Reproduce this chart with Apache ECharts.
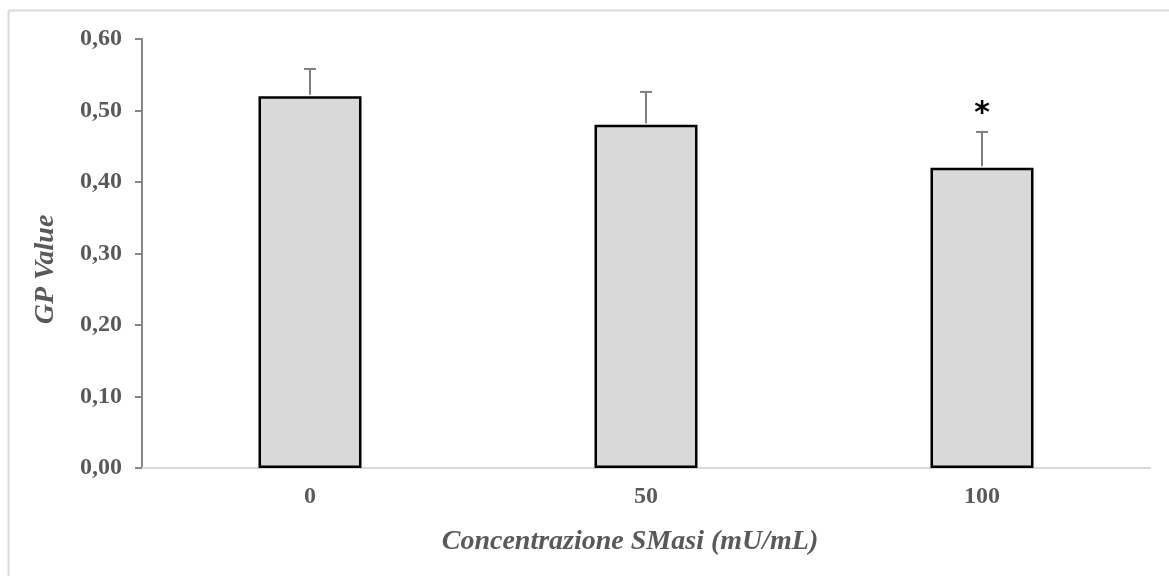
<!DOCTYPE html>
<html>
<head>
<meta charset="utf-8">
<script src="https://cdn.jsdelivr.net/npm/echarts@6/dist/echarts.min.js"></script>
<style>
html,body{margin:0;padding:0;background:#fff;}
#chart{width:1169px;height:576px;}
</style>
</head>
<body>
<div id="chart"></div>
<script>
const categories = ['0', '50', '100'];
const values = [0.52, 0.48, 0.42];
const errors = [0.038, 0.046, 0.05];
const significant = [false, false, true];
const yTicks = [0, 0.1, 0.2, 0.3, 0.4, 0.5, 0.6];

const chart = echarts.init(document.getElementById('chart'));
const font = '"Liberation Serif", "Times New Roman", serif';

chart.setOption({
  animation: false,
  backgroundColor: '#fff',
  graphic: [
    { type: 'line', shape: { x1: 8.5, y1: 10.5, x2: 1169, y2: 10.5 }, style: { stroke: '#d9d9d9', lineWidth: 2 } },
    { type: 'line', shape: { x1: 8.5, y1: 10.5, x2: 8.5, y2: 576 }, style: { stroke: '#d9d9d9', lineWidth: 2 } }
  ],
  grid: { left: 142, right: 19, top: 39, bottom: 108, containLabel: false },
  xAxis: {
    type: 'category',
    data: categories,
    axisLine: { show: true, lineStyle: { color: '#d9d9d9', width: 2 } },
    axisTick: { show: false },
    axisLabel: { color: '#595959', fontFamily: font, fontWeight: 'bold', fontSize: 24, margin: 17 },
    name: 'Concentrazione SMasi (mU/mL)',
    nameLocation: 'middle',
    nameGap: 60,
    nameTextStyle: { color: '#595959', fontFamily: font, fontWeight: 'bold', fontStyle: 'italic', fontSize: 28, padding: [0, 32, 0, 0] }
  },
  yAxis: {
    type: 'value',
    min: 0, max: 0.6, interval: 0.1,
    axisLine: { show: true, lineStyle: { color: '#868686', width: 2 } },
    axisTick: { show: true, length: 7, lineStyle: { color: '#868686', width: 2 } },
    splitLine: { show: false },
    axisLabel: {
      color: '#595959', fontFamily: font, fontWeight: 'bold', fontSize: 24, margin: 20,
      formatter: v => v.toFixed(2).replace('.', ',')
    },
    name: 'GP Value',
    nameLocation: 'middle',
    nameGap: 82,
    nameRotate: 90,
    nameTextStyle: { color: '#595959', fontFamily: font, fontWeight: 'bold', fontStyle: 'italic', fontSize: 28, padding: [0, 32, 0, 0] }
  },
  series: [
    {
      type: 'bar',
      data: values,
      barWidth: 103,
      itemStyle: { color: '#d9d9d9', borderColor: '#000', borderWidth: 2.5 },
      z: 2
    },
    {
      type: 'custom',
      data: values.map((v, i) => [i, v, errors[i], significant[i] ? 1 : 0]),
      renderItem: function (params, api) {
        const x = api.value(0), v = api.value(1), e = api.value(2), sig = api.value(3);
        const p0 = api.coord([x, v]);
        const p1 = api.coord([x, v + e]);
        const style = { stroke: '#7f7f7f', lineWidth: 2 };
        const children = [
          { type: 'line', shape: { x1: p0[0], y1: p0[1] - 1.5, x2: p1[0], y2: p1[1] }, style: style },
          { type: 'line', shape: { x1: p1[0] - 6, y1: p1[1], x2: p1[0] + 6, y2: p1[1] }, style: style }
        ];
        if (sig) {
          children.push({
            type: 'text',
            style: {
              text: '*', x: p1[0], y: p1[1] - 18, align: 'center', verticalAlign: 'middle',
              fill: '#000', font: 'bold 30px "DejaVu Sans", sans-serif'
            }
          });
        }
        return { type: 'group', children: children };
      },
      z: 3
    }
  ]
});
</script>
</body>
</html>
